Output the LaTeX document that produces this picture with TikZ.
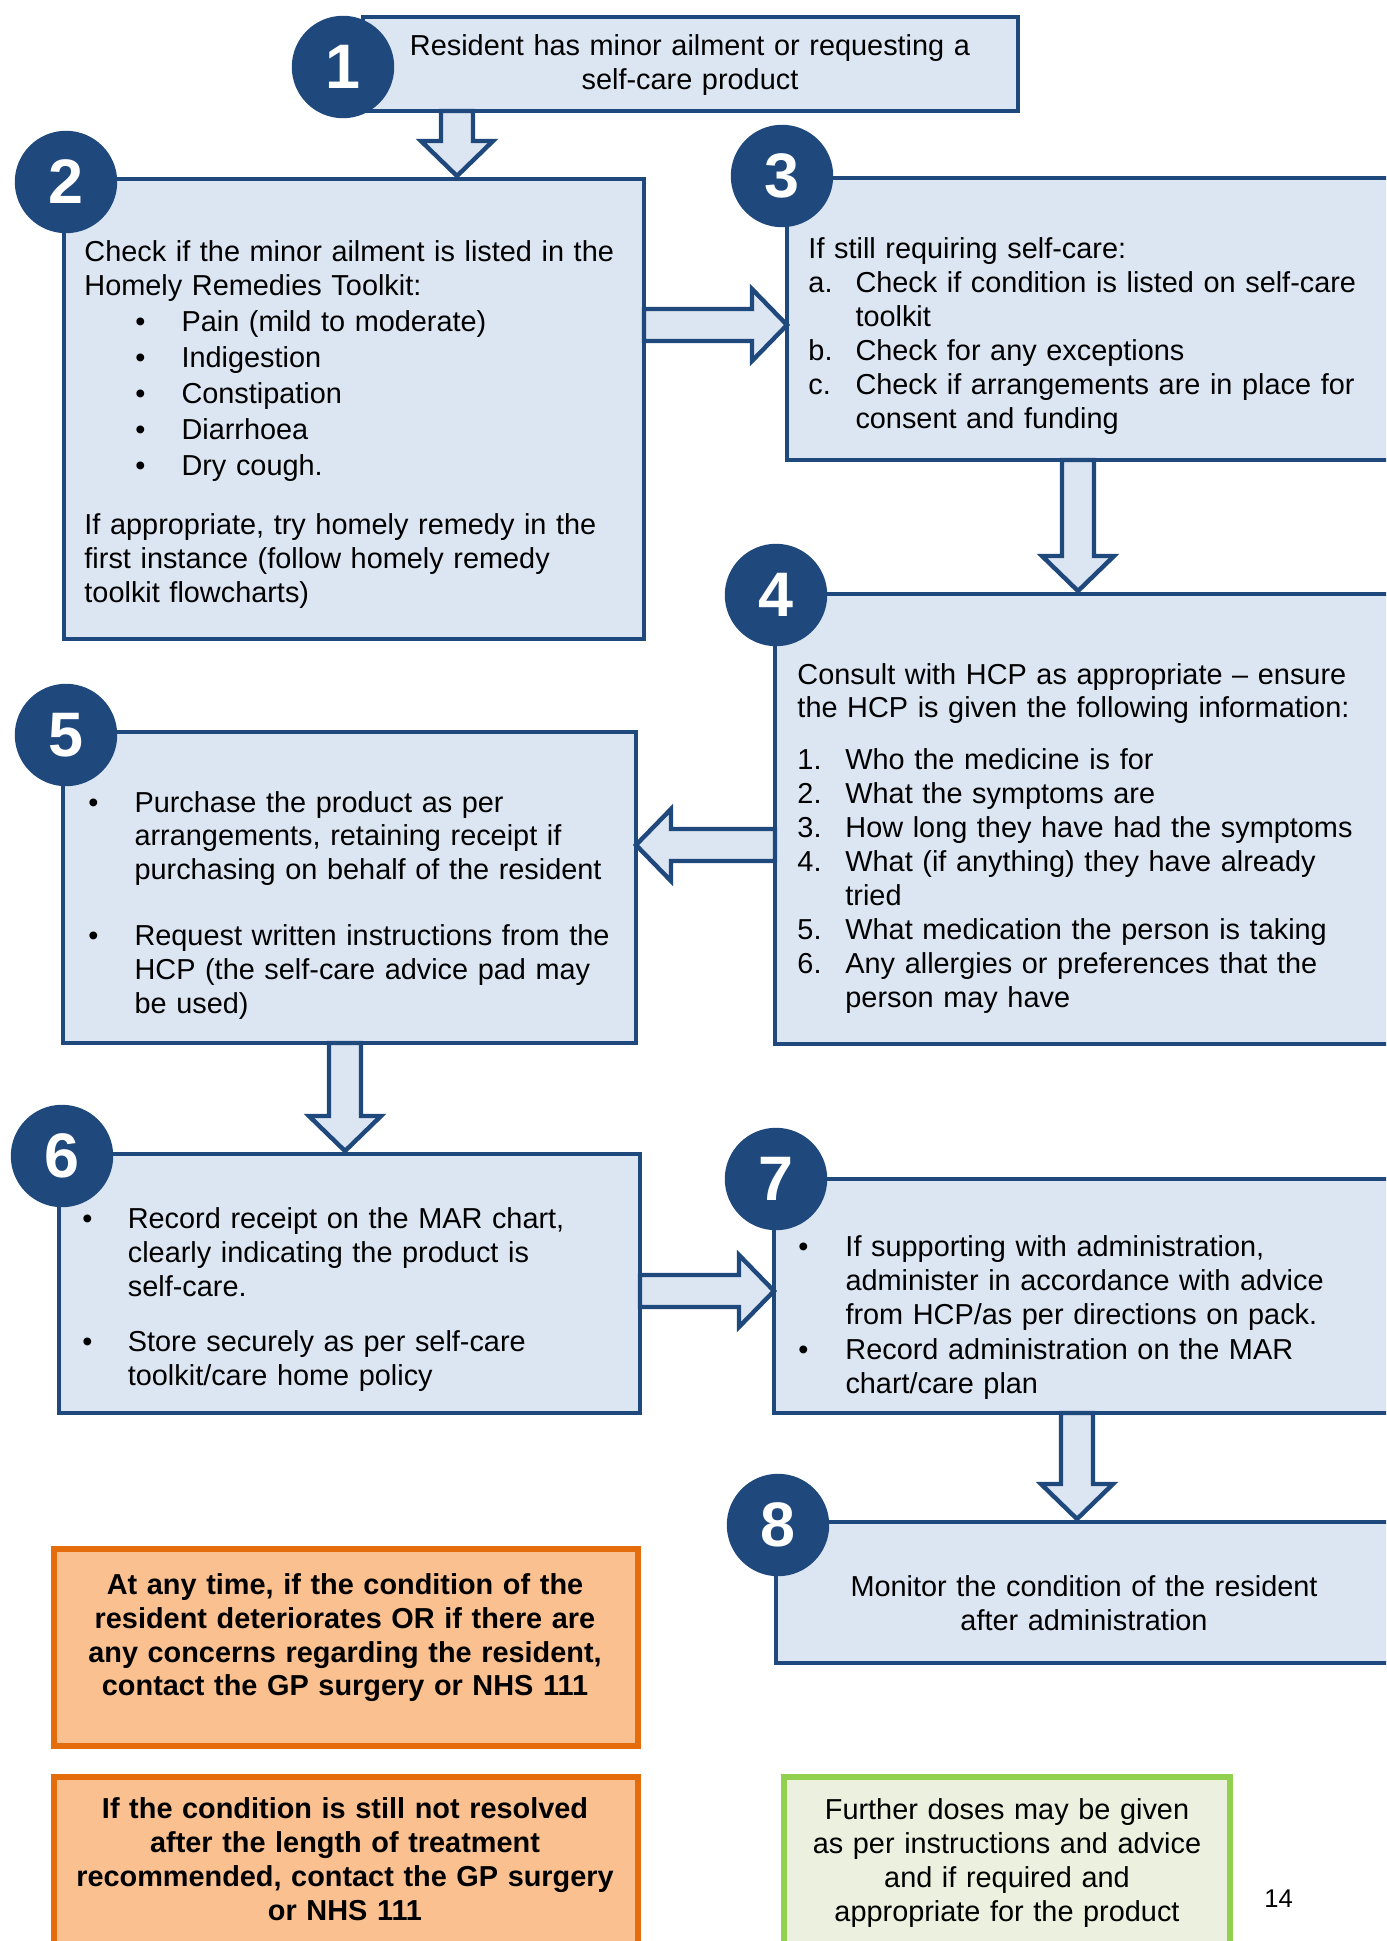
\documentclass[tikz,border=0pt]{standalone}
\usepackage{fontspec}
\setmainfont{Liberation Sans}
\usetikzlibrary{fit,calc}
\definecolor{dblue}{HTML}{1F497D}
\definecolor{lblue}{HTML}{DCE6F2}
\definecolor{oline}{HTML}{E46C0A}
\definecolor{ofill}{HTML}{FAC090}
\definecolor{gline}{HTML}{92D050}
\definecolor{gfill}{HTML}{EBF1DE}
\newcommand\itm[3]{\hspace*{#1}\makebox[#2][l]{#3}}
\newcommand\ind[1]{\hspace*{#1}}
% down arrow: source, target, x
\newcommand\darr[3]{%
  \coordinate (#1#2s) at (#3,0 |- #1.south);
  \coordinate (#1#2t) at (#3,0 |- #2.north);
  \draw[arr] ($(#1#2s)+(-16,0)$) -- ($(#1#2t)+(-16,-38)$) -- ($(#1#2t)+(-36,-38)$) -- ($(#1#2t)+(0,-3)$)
     -- ($(#1#2t)+(36,-38)$) -- ($(#1#2t)+(16,-38)$) -- ($(#1#2s)+(16,0)$) -- cycle;}
% right arrow: source, target, y
\newcommand\rarr[3]{%
  \coordinate (#1#2s) at (#1.east |- 0,#3);
  \coordinate (#1#2t) at (#2.west |- 0,#3);
  \draw[arr] ($(#1#2s)+(0,-16)$) -- ($(#1#2t)+(-35,-16)$) -- ($(#1#2t)+(-35,-36)$) -- (#1#2t)
     -- ($(#1#2t)+(-35,36)$) -- ($(#1#2t)+(-35,16)$) -- ($(#1#2s)+(0,16)$) -- cycle;}
% left arrow: source, target, y
\newcommand\larr[3]{%
  \coordinate (#1#2s) at (#1.west |- 0,#3);
  \coordinate (#1#2t) at (#2.east |- 0,#3);
  \draw[arr] ($(#1#2s)+(0,-16)$) -- ($(#1#2t)+(35,-16)$) -- ($(#1#2t)+(35,-36)$) -- (#1#2t)
     -- ($(#1#2t)+(35,36)$) -- ($(#1#2t)+(35,16)$) -- ($(#1#2s)+(0,16)$) -- cycle;}
\begin{document}
\begin{tikzpicture}[x=0.4295pt,y=-0.4295pt,
  box/.style={rectangle, draw=dblue, fill=lblue, line width=2.1pt, inner sep=0pt, outer sep=0pt},
  obox/.style={rectangle, draw=oline, fill=ofill, line width=2.4pt, inner sep=0pt, outer sep=0pt},
  gbox/.style={rectangle, draw=gline, fill=gfill, line width=2.2pt, inner sep=0pt, outer sep=0pt},
  arr/.style={draw=dblue, fill=lblue, line width=1.9pt, line join=miter},
  num/.style={circle, fill=dblue, text=white, minimum size=44pt, inner sep=0pt, font=\fontsize{27}{27}\selectfont\bfseries},
  txt/.style={inner sep=0pt, text width=300pt, align=left, anchor=base west, font=\fontsize{12.4}{14.6}\selectfont},
  ctxt/.style={inner sep=0pt, text width=300pt, align=center, anchor=base, font=\fontsize{12.4}{14.6}\selectfont},
]
\useasboundingbox (0,0) rectangle (1386,1941);
\fill[white] (0,0) rectangle (1386,1941);
\begin{scope}
\clip (0,0) rectangle (1386,1941);
% boxes
\node[box, fit={(363,17) (1018,111)}] (b1) {};
\node[box, fit={(64,179) (644,639)}] (b2) {};
\node[box, fit={(787,178) (1430,460)}] (b3) {};
\node[box, fit={(775,594) (1430,1044)}] (b4) {};
\node[box, fit={(63,732) (636,1043)}] (b5) {};
\node[box, fit={(59,1154) (640,1413)}] (b6) {};
\node[box, fit={(774,1179) (1430,1413)}] (b7) {};
\node[box, fit={(776,1522) (1430,1663)}] (b8) {};
\node[obox, fit={(54,1549) (638,1746)}] (o1) {};
\node[obox, fit={(54,1777) (638,1980)}] (o2) {};
\node[gbox, fit={(784,1777) (1230,1980)}] (g1) {};
% arrows
\darr{b1}{b2}{457}
\rarr{b2}{b3}{325}
\darr{b3}{b4}{1078}
\larr{b4}{b5}{845}
\darr{b5}{b6}{345}
\rarr{b6}{b7}{1291}
\darr{b7}{b8}{1077}
% number circles
\node[num] (c1) at (343,67) {1};
\node[num] (c2) at (66,182) {2};
\node[num] (c3) at (782,176) {3};
\node[num] (c4) at (776,595) {4};
\node[num] (c5) at (66,735) {5};
\node[num] (c6) at (62,1156) {6};
\node[num] (c7) at (776,1179) {7};
\node[num] (c8) at (778,1525) {8};
% texts
\node[ctxt] (t1) at (690,56) {Resident has minor ailment or requesting a\\self-care product};
\node[txt] (t2) at (84,262) {Check if the minor ailment is listed in the\\
Homely Remedies Toolkit:\\[0.8pt]
\itm{21.9pt}{19.8pt}{•}Pain (mild to moderate)\\[0.8pt]
\itm{21.9pt}{19.8pt}{•}Indigestion\\[0.8pt]
\itm{21.9pt}{19.8pt}{•}Constipation\\[0.8pt]
\itm{21.9pt}{19.8pt}{•}Diarrhoea\\[0.8pt]
\itm{21.9pt}{19.8pt}{•}Dry cough.\\[11pt]
If appropriate, try homely remedy in the\\
first instance (follow homely remedy\\
toolkit flowcharts)};
\node[txt] (t3) at (808,259) {If still requiring self-care:\\
\itm{0pt}{20.2pt}{a.}Check if condition is listed on self-care\\
\ind{20.2pt}toolkit\\
\itm{0pt}{20.2pt}{b.}Check for any exceptions\\
\itm{0pt}{20.2pt}{c.}Check if arrangements are in place for\\
\ind{20.2pt}consent and funding};
\node[txt] (t4) at (797,684) {Consult with HCP as appropriate – ensure\\
the HCP is given the following information:\\[7.7pt]
\itm{0pt}{20.6pt}{1.}Who the medicine is for\\
\itm{0pt}{20.6pt}{2.}What the symptoms are\\
\itm{0pt}{20.6pt}{3.}How long they have had the symptoms\\
\itm{0pt}{20.6pt}{4.}What (if anything) they have already\\
\ind{20.6pt}tried\\
\itm{0pt}{20.6pt}{5.}What medication the person is taking\\
\itm{0pt}{20.6pt}{6.}Any allergies or preferences that the\\
\ind{20.6pt}person may have};
\node[txt] (t5) at (88,812) {\itm{0pt}{19.8pt}{•}Purchase the product as per\\
\ind{19.8pt}arrangements, retaining receipt if\\
\ind{19.8pt}purchasing on behalf of the resident\\[13.6pt]
\itm{0pt}{19.8pt}{•}Request written instructions from the\\
\ind{19.8pt}HCP (the self-care advice pad may\\
\ind{19.8pt}be used)};
\node[txt] (t6) at (82,1228) {\itm{0pt}{19.5pt}{•}Record receipt on the MAR chart,\\
\ind{19.5pt}clearly indicating the product is\\
\ind{19.5pt}self-care.\\[9.3pt]
\itm{0pt}{19.5pt}{•}Store securely as per self-care\\
\ind{19.5pt}toolkit/care home policy};
\node[txt] (t7) at (798,1256) {\itm{0pt}{20.2pt}{•}If supporting with administration,\\
\ind{20.2pt}administer in accordance with advice\\
\ind{20.2pt}from HCP/as per directions on pack.\\[0.8pt]
\itm{0pt}{20.2pt}{•}Record administration on the MAR\\
\ind{20.2pt}chart/care plan};
\node[ctxt] (t8) at (1084,1596) {Monitor the condition of the resident\\after administration};
\node[ctxt, font=\fontsize{12.4}{14.6}\selectfont\bfseries] (to1) at (345,1594) {At any time, if the condition of the\\
resident deteriorates OR if there are\\
any concerns regarding the resident,\\
contact the GP surgery or NHS 111};
\node[ctxt, font=\fontsize{12.4}{14.6}\selectfont\bfseries] (to2) at (345,1818) {If the condition is still not resolved\\
after the length of treatment\\
recommended, contact the GP surgery\\
or NHS 111};
\node[ctxt] (tg) at (1007,1819) {Further doses may be given\\
as per instructions and advice\\
and if required and\\
appropriate for the product};
\node[inner sep=0pt, anchor=base west, font=\fontsize{11}{13}\selectfont] (pg) at (1264,1907) {14};
\end{scope}
\end{tikzpicture}
\end{document}
